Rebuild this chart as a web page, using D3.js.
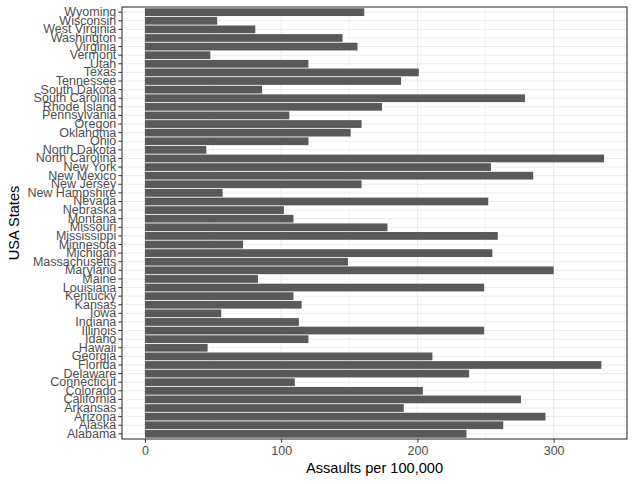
<!DOCTYPE html>
<html>
<head>
<meta charset="utf-8">
<script src="https://cdn.jsdelivr.net/npm/d3@7"></script>
<style>
  body { margin: 0; background: #fff; }
  text { font-family: "Liberation Sans", Arial, sans-serif; }
</style>
</head>
<body>
<script>
// USArrests, assaults per 100,000
var states = ['Alabama', 'Alaska', 'Arizona', 'Arkansas', 'California', 'Colorado',
  'Connecticut', 'Delaware', 'Florida', 'Georgia', 'Hawaii', 'Idaho', 'Illinois',
  'Indiana', 'Iowa', 'Kansas', 'Kentucky', 'Louisiana', 'Maine', 'Maryland',
  'Massachusetts', 'Michigan', 'Minnesota', 'Mississippi', 'Missouri', 'Montana',
  'Nebraska', 'Nevada', 'New Hampshire', 'New Jersey', 'New Mexico', 'New York',
  'North Carolina', 'North Dakota', 'Ohio', 'Oklahoma', 'Oregon', 'Pennsylvania',
  'Rhode Island', 'South Carolina', 'South Dakota', 'Tennessee', 'Texas', 'Utah',
  'Vermont', 'Virginia', 'Washington', 'West Virginia', 'Wisconsin', 'Wyoming'];

var assaults = [236, 263, 294, 190, 276, 204, 110, 238, 335, 211, 46, 120, 249,
  113, 56, 115, 109, 249, 83, 300, 149, 255, 72, 259, 178, 109, 102, 252, 57, 159,
  285, 254, 337, 45, 120, 151, 159, 106, 174, 279, 86, 188, 201, 120, 48, 156, 145,
  81, 53, 161];

var xTicks = [0, 100, 200, 300];
var xMinor = [50, 150, 250];

var W = 634, H = 484;
var margin = {top: 7, right: 7, bottom: 45, left: 122};
var w = W - margin.left - margin.right,
    h = H - margin.top - margin.bottom;

var data = states.map(function (s, i) { return {state: s, value: assaults[i]}; });

var maxV = d3.max(assaults);
var pad = maxV * 0.05;

var xScale = d3.scaleLinear()
    .domain([-pad, maxV + pad])
    .range([0, w]);

var yScale = d3.scaleBand()
    .domain(states.slice().reverse())
    .range([0, h])
    .paddingInner(0.1)
    .paddingOuter(0.15);

var svg = d3.select('body').append('svg')
    .attr('width', W)
    .attr('height', H);

var g = svg.append('g')
    .attr('transform', 'translate(' + margin.left + ',' + margin.top + ')');

// grid
g.selectAll('.minor')
  .data(xMinor)
  .enter().append('line')
  .attr('x1', function (d) { return xScale(d); })
  .attr('x2', function (d) { return xScale(d); })
  .attr('y1', 0).attr('y2', h)
  .attr('stroke', '#ebebeb').attr('stroke-width', 0.5);

g.selectAll('.majorx')
  .data(xTicks)
  .enter().append('line')
  .attr('x1', function (d) { return xScale(d); })
  .attr('x2', function (d) { return xScale(d); })
  .attr('y1', 0).attr('y2', h)
  .attr('stroke', '#ebebeb').attr('stroke-width', 1);

g.selectAll('.majory')
  .data(states)
  .enter().append('line')
  .attr('x1', 0).attr('x2', w)
  .attr('y1', function (d) { return yScale(d) + yScale.bandwidth() / 2; })
  .attr('y2', function (d) { return yScale(d) + yScale.bandwidth() / 2; })
  .attr('stroke', '#ebebeb').attr('stroke-width', 1);

// bars
g.selectAll('rect.bar')
  .data(data)
  .enter().append('rect')
  .attr('class', 'bar')
  .attr('x', xScale(0))
  .attr('y', function (d) { return yScale(d.state); })
  .attr('width', function (d) { return xScale(d.value) - xScale(0); })
  .attr('height', yScale.bandwidth())
  .attr('fill', '#595959');

// panel border
g.append('rect')
  .attr('x', 0).attr('y', 0)
  .attr('width', w).attr('height', h)
  .attr('fill', 'none')
  .attr('stroke', '#333333')
  .attr('stroke-width', 1.1);

// axes
var xAxis = d3.axisBottom(xScale).tickValues(xTicks).tickSize(3.7).tickPadding(3);
var yAxis = d3.axisLeft(yScale).tickSize(3.7).tickPadding(2);

var gx = g.append('g')
  .attr('transform', 'translate(0,' + h + ')')
  .call(xAxis);

var gy = g.append('g')
  .call(yAxis);

[gx, gy].forEach(function (ax) {
  ax.select('.domain').remove();
  ax.selectAll('.tick line').attr('stroke', '#333333').attr('stroke-width', 1);
  ax.selectAll('.tick text')
    .attr('fill', '#4d4d4d')
    .style('font-size', '12.5px')
    .style('font-family', '"Liberation Sans", Arial, sans-serif');
});

// titles
svg.append('text')
  .attr('x', margin.left + w / 2)
  .attr('y', 473)
  .attr('text-anchor', 'middle')
  .style('font-size', '14.6px')
  .attr('fill', '#000')
  .text('Assaults per 100,000');

svg.append('text')
  .attr('transform', 'translate(19,' + (margin.top + h / 2) + ') rotate(-90)')
  .attr('text-anchor', 'middle')
  .style('font-size', '14.6px')
  .attr('fill', '#000')
  .text('USA States');
</script>
</body>
</html>
